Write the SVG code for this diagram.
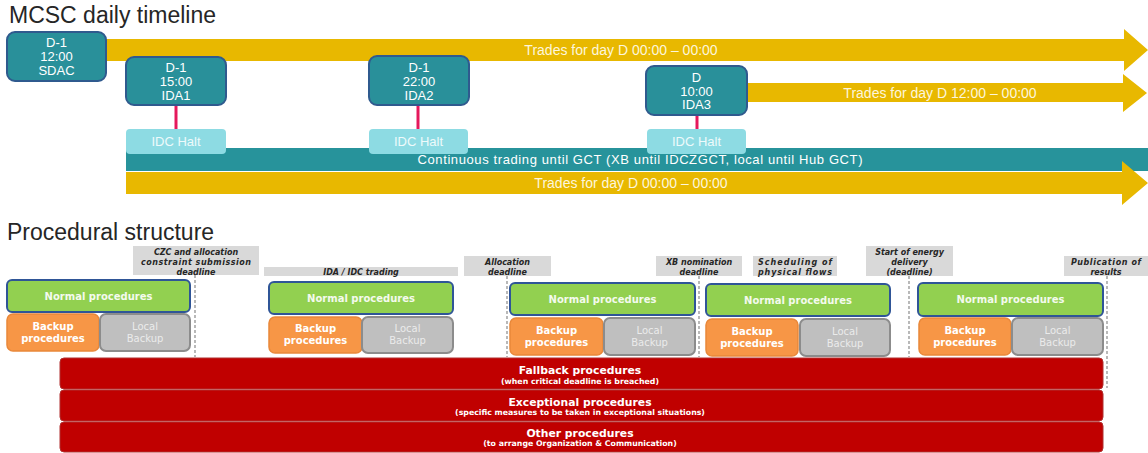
<svg xmlns="http://www.w3.org/2000/svg" width="1148" height="453" viewBox="0 0 1148 453">
<style>
.title{font-family:"Liberation Sans",Arial,sans-serif;font-size:23px;fill:#262626}
.tl{font-family:"Liberation Sans",Arial,sans-serif;font-size:13px;fill:#ffffff;text-anchor:middle}
.tr{font-family:"Liberation Sans",Arial,sans-serif;font-size:14px;fill:#fdf6dc;text-anchor:middle}
.halt{font-family:"Liberation Sans",Arial,sans-serif;font-size:13px;fill:#eefafb;text-anchor:middle}
.arrow{fill:#E8B800}
.tbox{fill:#29909A;stroke:#2F5A8E;stroke-width:2}
.hbox{fill:#8DDBE3}
.lab{fill:#D9D9D9}
.labt{font-family:"DejaVu Sans",Verdana,sans-serif;font-size:8px;font-weight:bold;font-style:italic;fill:#262626;text-anchor:middle}
.normal{fill:#92D050;stroke:#2F5597;stroke-width:2}
.backup{fill:#F79646;stroke:#E9883A;stroke-width:1.5}
.local{fill:#BFBFBF;stroke:#8C8C8C;stroke-width:2}
.bt{font-family:"DejaVu Sans",Verdana,sans-serif;font-size:10px;font-weight:bold;fill:#ffffff;text-anchor:middle}
.nt{font-family:"DejaVu Sans",Verdana,sans-serif;font-size:10px;font-weight:bold;fill:#F4FAEE;text-anchor:middle}
.lt{font-family:"DejaVu Sans",Verdana,sans-serif;font-size:10px;fill:#EBEBEB;text-anchor:middle}
.red{fill:#C00000;stroke:#B03030;stroke-width:1}
.rt{font-family:"DejaVu Sans",Verdana,sans-serif;font-size:10.8px;font-weight:bold;fill:#ffffff;text-anchor:middle}
.rs{font-family:"DejaVu Sans",Verdana,sans-serif;font-size:7.8px;font-weight:bold;fill:#ffffff;text-anchor:middle}
.pink{stroke:#E5185C;stroke-width:3}
.dash{stroke:#8A8A8A;stroke-width:1.2;stroke-dasharray:3 2;fill:none}
</style>

<text class="title" x="9" y="23">MCSC daily timeline</text>
<text class="title" x="7" y="240">Procedural structure</text>

<g id="arrow-top">
<polygon class="arrow" points="100,39 1124,39 1124,29 1148,50 1124,71 1124,61 100,61"/>
<text class="tr" x="621" y="55">Trades for day D 00:00 – 00:00</text>
</g>
<g id="arrow-mid">
<polygon class="arrow" points="742,83 1123,83 1123,74 1147,93 1123,112 1123,102 742,102"/>
<text class="tr" x="940" y="98">Trades for day D 12:00 – 00:00</text>
</g>
<g id="continuous">
<rect x="126" y="148" width="1022" height="23" fill="#27939B"/>
<text class="tl" x="640" y="164" textLength="445" lengthAdjust="spacing">Continuous trading until GCT (XB until IDCZGCT, local until Hub GCT)</text>
</g>
<g id="arrow-bottom">
<polygon class="arrow" points="126,172 1122,172 1122,161 1148,183 1122,205 1122,194 126,194"/>
<text class="tr" x="631" y="188">Trades for day D 00:00 – 00:00</text>
</g>

<g id="connectors">
<line class="pink" x1="176" y1="105" x2="176" y2="130"/>
<line class="pink" x1="418" y1="105" x2="418" y2="130"/>
<line class="pink" x1="697" y1="115" x2="697" y2="130"/>
<line class="dash" x1="195" y1="275" x2="195" y2="357"/>
<line class="dash" x1="507" y1="276" x2="507" y2="357"/>
<line class="dash" x1="699" y1="276" x2="699" y2="357"/>
<line class="dash" x1="909" y1="276" x2="909" y2="357"/>
<line class="dash" x1="1107" y1="276" x2="1107" y2="388"/>
</g>

<g id="sdac">
<rect class="tbox" x="7" y="32" width="99" height="49" rx="8"/>
<text class="tl" x="56.5" y="47">D-1</text>
<text class="tl" x="56.5" y="61">12:00</text>
<text class="tl" x="56.5" y="75">SDAC</text>
</g>
<g id="ida1">
<rect class="tbox" x="126" y="57" width="100" height="48" rx="8"/>
<text class="tl" x="176" y="72">D-1</text>
<text class="tl" x="176" y="86">15:00</text>
<text class="tl" x="176" y="100">IDA1</text>
</g>
<g id="ida2">
<rect class="tbox" x="369" y="56" width="100" height="49" rx="8"/>
<text class="tl" x="419" y="72">D-1</text>
<text class="tl" x="419" y="86">22:00</text>
<text class="tl" x="419" y="100">IDA2</text>
</g>
<g id="ida3">
<rect class="tbox" x="646" y="66" width="101" height="49" rx="8"/>
<text class="tl" x="696.5" y="82">D</text>
<text class="tl" x="696.5" y="96">10:00</text>
<text class="tl" x="696.5" y="109">IDA3</text>
</g>

<g id="halt1">
<rect class="hbox" x="126" y="129" width="100" height="25" rx="4"/>
<text class="halt" x="176" y="146">IDC Halt</text>
</g>
<g id="halt2">
<rect class="hbox" x="369" y="129" width="99" height="25" rx="4"/>
<text class="halt" x="418.5" y="146">IDC Halt</text>
</g>
<g id="halt3">
<rect class="hbox" x="647" y="129" width="99" height="25" rx="4"/>
<text class="halt" x="696.5" y="146">IDC Halt</text>
</g>

<g id="label-czc">
<rect class="lab" x="133" y="246" width="126" height="29"/>
<text class="labt" x="196" y="254.5">CZC and allocation</text>
<text class="labt" x="196" y="264.5" textLength="110" lengthAdjust="spacing">constraint submission</text>
<text class="labt" x="196" y="274.5">deadline</text>
</g>
<g id="label-ida">
<rect class="lab" x="264" y="267" width="194" height="9"/>
<text class="labt" x="361" y="274.5">IDA / IDC trading</text>
</g>
<g id="label-allocation">
<rect class="lab" x="464" y="256" width="87" height="20"/>
<text class="labt" x="507.5" y="264.5">Allocation</text>
<text class="labt" x="507.5" y="274.5">deadline</text>
</g>
<g id="label-xb">
<rect class="lab" x="656" y="256" width="86" height="20"/>
<text class="labt" x="699" y="264.5">XB nomination</text>
<text class="labt" x="699" y="274.5">deadline</text>
</g>
<g id="label-scheduling">
<rect class="lab" x="753" y="256" width="84" height="20"/>
<text class="labt" x="795" y="264.5" textLength="74" lengthAdjust="spacing">Scheduling of</text>
<text class="labt" x="795" y="274.5" textLength="74" lengthAdjust="spacing">physical flows</text>
</g>
<g id="label-start">
<rect class="lab" x="866" y="246" width="87" height="30"/>
<text class="labt" x="909.5" y="254.5">Start of energy</text>
<text class="labt" x="909.5" y="264.5">delivery</text>
<text class="labt" x="909.5" y="274.5">(deadline)</text>
</g>
<g id="label-publication">
<rect class="lab" x="1064" y="256" width="84" height="20"/>
<text class="labt" x="1106" y="264.5" textLength="70" lengthAdjust="spacing">Publication of</text>
<text class="labt" x="1106" y="274.5">results</text>
</g>

<g id="group1">
<rect class="normal" x="7" y="280" width="183" height="32" rx="5"/>
<text class="nt" x="98.5" y="300">Normal procedures</text>
<rect class="backup" x="7" y="314" width="92" height="37" rx="6"/>
<text class="bt" x="53" y="330">Backup</text>
<text class="bt" x="53" y="342">procedures</text>
<rect class="local" x="100" y="314" width="90" height="37" rx="6"/>
<text class="lt" x="145" y="330">Local</text>
<text class="lt" x="145" y="342">Backup</text>
</g>
<g id="group2">
<rect class="normal" x="269" y="282" width="184" height="32" rx="5"/>
<text class="nt" x="361" y="302">Normal procedures</text>
<rect class="backup" x="269" y="317" width="93" height="36" rx="6"/>
<text class="bt" x="315.5" y="332">Backup</text>
<text class="bt" x="315.5" y="344">procedures</text>
<rect class="local" x="362" y="317" width="91" height="36" rx="6"/>
<text class="lt" x="407.5" y="332">Local</text>
<text class="lt" x="407.5" y="344">Backup</text>
</g>
<g id="group3">
<rect class="normal" x="510" y="283" width="185" height="32" rx="5"/>
<text class="nt" x="602.5" y="303">Normal procedures</text>
<rect class="backup" x="510" y="318" width="93" height="37" rx="6"/>
<text class="bt" x="556.5" y="334">Backup</text>
<text class="bt" x="556.5" y="346">procedures</text>
<rect class="local" x="604" y="318" width="91" height="37" rx="6"/>
<text class="lt" x="649.5" y="334">Local</text>
<text class="lt" x="649.5" y="346">Backup</text>
</g>
<g id="group4">
<rect class="normal" x="706" y="284" width="184" height="32" rx="5"/>
<text class="nt" x="798" y="304">Normal procedures</text>
<rect class="backup" x="706" y="319" width="92" height="37" rx="6"/>
<text class="bt" x="752" y="335">Backup</text>
<text class="bt" x="752" y="347">procedures</text>
<rect class="local" x="800" y="319" width="90" height="37" rx="6"/>
<text class="lt" x="845" y="335">Local</text>
<text class="lt" x="845" y="347">Backup</text>
</g>
<g id="group5">
<rect class="normal" x="918" y="283" width="185" height="33" rx="5"/>
<text class="nt" x="1010.5" y="303">Normal procedures</text>
<rect class="backup" x="919" y="318" width="92" height="37" rx="6"/>
<text class="bt" x="965" y="334">Backup</text>
<text class="bt" x="965" y="346">procedures</text>
<rect class="local" x="1012" y="318" width="91" height="37" rx="6"/>
<text class="lt" x="1057.5" y="334">Local</text>
<text class="lt" x="1057.5" y="346">Backup</text>
</g>

<g id="fallback">
<rect class="red" x="60" y="358" width="1043" height="31" rx="4"/>
<text class="rt" x="580" y="374">Fallback procedures</text>
<text class="rs" x="580" y="384">(when critical deadline is breached)</text>
</g>
<g id="exceptional">
<rect class="red" x="60" y="390" width="1043" height="31" rx="4"/>
<text class="rt" x="580" y="405.5">Exceptional procedures</text>
<text class="rs" x="580" y="415">(specific measures to be taken in exceptional situations)</text>
</g>
<g id="other">
<rect class="red" x="60" y="422" width="1043" height="30" rx="4"/>
<text class="rt" x="580" y="437">Other procedures</text>
<text class="rs" x="580" y="446">(to arrange Organization &amp; Communication)</text>
</g>
</svg>
